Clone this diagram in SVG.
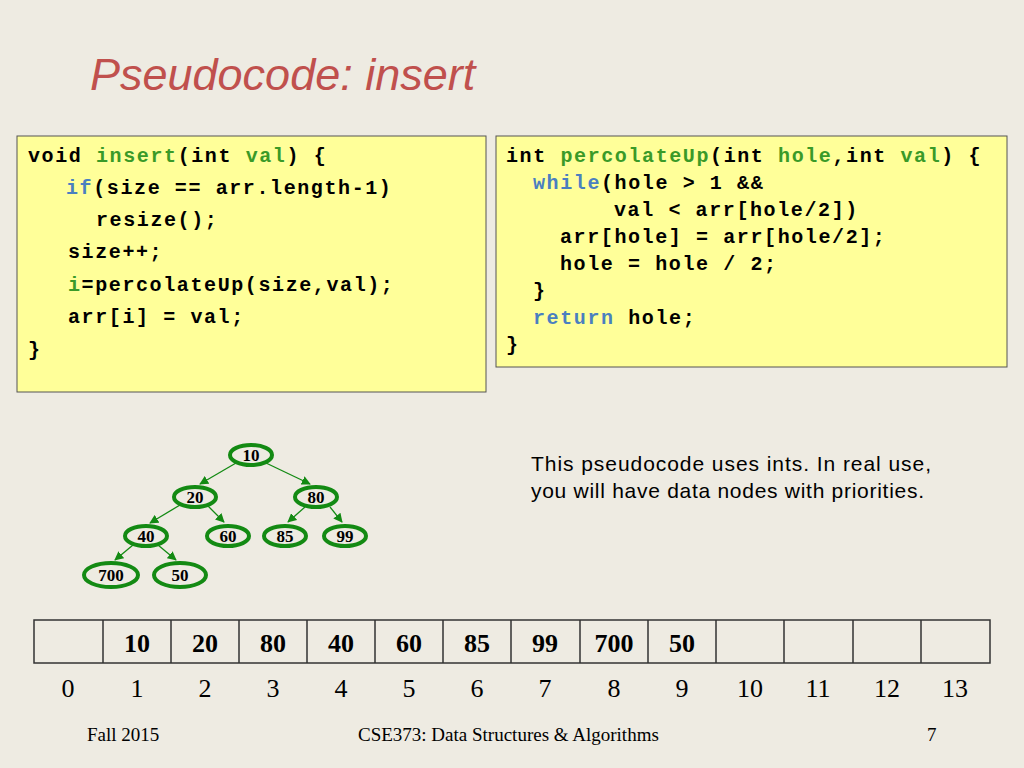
<svg xmlns="http://www.w3.org/2000/svg" width="1024" height="768" viewBox="0 0 1024 768">
<style>
.code{font-family:"Liberation Mono",monospace;font-weight:bold;font-size:20px;letter-spacing:1.6px;fill:#000}
.g{fill:#3a9a28}.b{fill:#4a7fc0}
.box{fill:#ffff99;stroke:#555;stroke-width:1}
.nd{fill:none;stroke:#138a13;stroke-width:4}
.nt{font-family:"Liberation Serif",serif;font-weight:bold;font-size:17px;text-anchor:middle}
.ed{stroke:#138a13;stroke-width:1.3;marker-end:url(#ar)}
.cell{fill:none;stroke:#333;stroke-width:1.5}
.ct{font-family:"Liberation Serif",serif;font-weight:bold;font-size:26px;text-anchor:middle}
.it{font-family:"Liberation Serif",serif;font-size:26px;text-anchor:middle}
.ft{font-family:"Liberation Serif",serif;font-size:19px}
.p{font-family:"Liberation Sans",sans-serif;font-size:21px}
</style>
<defs><marker id="ar" viewBox="0 0 10 10" refX="9" refY="5" markerWidth="7" markerHeight="7" orient="auto"><path d="M0,0 L10,5 L0,10 z" fill="#138a13"/></marker></defs>
<rect width="1024" height="768" fill="#eeebe2"/>
<text x="90" y="90" font-family="Liberation Sans,sans-serif" font-style="italic" font-size="45" fill="#c0504d">Pseudocode: insert</text>
<g id="code1">
<rect class="box" x="17" y="136" width="469" height="256"/>
<text class="code" x="28" y="162">void <tspan class="g">insert</tspan>(int <tspan class="g">val</tspan>) {</text>
<text class="code" x="66" y="194"><tspan class="b">if</tspan>(size == arr.length-1)</text>
<text class="code" x="96" y="226">resize();</text>
<text class="code" x="68" y="258">size++;</text>
<text class="code" x="68" y="291"><tspan class="g">i</tspan>=percolateUp(size,val);</text>
<text class="code" x="68" y="323">arr[i] = val;</text>
<text class="code" x="28" y="356">}</text>
</g>
<g id="code2">
<rect class="box" x="496" y="136" width="511" height="231"/>
<text class="code" x="506" y="162">int <tspan class="g">percolateUp</tspan>(int <tspan class="g">hole</tspan>,int <tspan class="g">val</tspan>) {</text>
<text class="code" x="533" y="189"><tspan class="b">while</tspan>(hole &gt; 1 &amp;&amp;</text>
<text class="code" x="614" y="216">val &lt; arr[hole/2])</text>
<text class="code" x="560" y="243">arr[hole] = arr[hole/2];</text>
<text class="code" x="560" y="270">hole = hole / 2;</text>
<text class="code" x="533" y="297">}</text>
<text class="code" x="533" y="324"><tspan class="b">return</tspan> hole;</text>
<text class="code" x="506" y="351">}</text>
</g>
<text class="p" x="531" y="471" textLength="400">This pseudocode uses ints.  In real use,</text>
<text class="p" x="531" y="498" textLength="393">you will have data nodes with priorities.</text>
<g id="edges">
<line class="ed" x1="236" y1="463" x2="200" y2="484"/>
<line class="ed" x1="266" y1="463" x2="310" y2="484"/>
<line class="ed" x1="180" y1="505" x2="150" y2="523"/>
<line class="ed" x1="208" y1="506" x2="224" y2="522"/>
<line class="ed" x1="305" y1="507" x2="288" y2="522"/>
<line class="ed" x1="330" y1="507" x2="342" y2="522"/>
<line class="ed" x1="133" y1="545" x2="115" y2="560"/>
<line class="ed" x1="158" y1="545" x2="176" y2="560"/>
</g>
<g id="n10"><ellipse class="nd" cx="251" cy="455" rx="21" ry="10"/><text class="nt" x="251" y="461">10</text></g>
<g id="n20"><ellipse class="nd" cx="195" cy="497" rx="21" ry="10"/><text class="nt" x="195" y="503">20</text></g>
<g id="n80"><ellipse class="nd" cx="316" cy="497" rx="21" ry="10"/><text class="nt" x="316" y="503">80</text></g>
<g id="n40"><ellipse class="nd" cx="146" cy="536" rx="21" ry="10"/><text class="nt" x="146" y="542">40</text></g>
<g id="n60"><ellipse class="nd" cx="228" cy="536" rx="21" ry="10"/><text class="nt" x="228" y="542">60</text></g>
<g id="n85"><ellipse class="nd" cx="285" cy="536" rx="21" ry="10"/><text class="nt" x="285" y="542">85</text></g>
<g id="n99"><ellipse class="nd" cx="345" cy="536" rx="21" ry="10"/><text class="nt" x="345" y="542">99</text></g>
<g id="n700"><ellipse class="nd" cx="111" cy="575" rx="27" ry="12"/><text class="nt" x="111" y="581">700</text></g>
<g id="n50"><ellipse class="nd" cx="180" cy="575" rx="26" ry="12"/><text class="nt" x="180" y="581">50</text></g>
<g id="array">
<rect class="cell" x="34" y="620" width="956" height="43"/>
<path class="cell" d="M103,620V663M171,620V663M239,620V663M307,620V663M375,620V663M443,620V663M511,620V663M580,620V663M648,620V663M716,620V663M784,620V663M853,620V663M921,620V663"/>
<text class="ct" x="137" y="652">10</text><text class="ct" x="205" y="652">20</text><text class="ct" x="273" y="652">80</text><text class="ct" x="341" y="652">40</text><text class="ct" x="409" y="652">60</text><text class="ct" x="477" y="652">85</text><text class="ct" x="545" y="652">99</text><text class="ct" x="614" y="652">700</text><text class="ct" x="682" y="652">50</text>
<text class="it" x="68" y="697">0</text><text class="it" x="137" y="697">1</text><text class="it" x="205" y="697">2</text><text class="it" x="273" y="697">3</text><text class="it" x="341" y="697">4</text><text class="it" x="409" y="697">5</text><text class="it" x="477" y="697">6</text><text class="it" x="545" y="697">7</text><text class="it" x="614" y="697">8</text><text class="it" x="682" y="697">9</text><text class="it" x="750" y="697">10</text><text class="it" x="818" y="697">11</text><text class="it" x="887" y="697">12</text><text class="it" x="955" y="697">13</text>
</g>
<text class="ft" x="87" y="741">Fall 2015</text>
<text class="ft" x="358" y="741">CSE373: Data Structures &amp; Algorithms</text>
<text class="ft" x="927" y="741">7</text>
</svg>
